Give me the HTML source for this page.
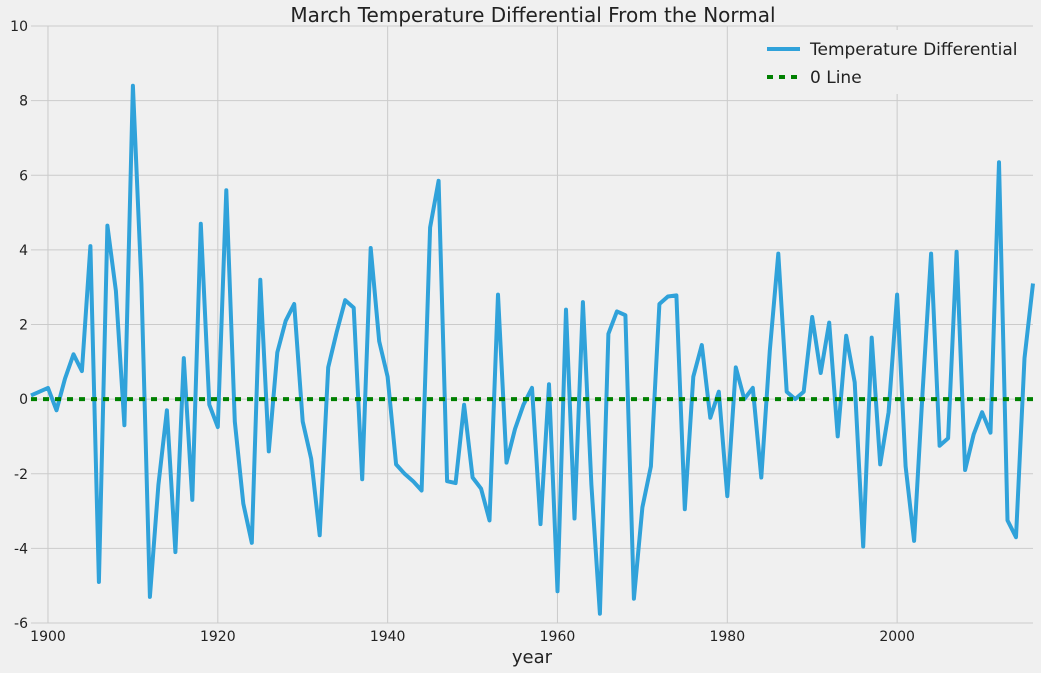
<!DOCTYPE html>
<html><head><meta charset="utf-8"><style>
html,body{margin:0;padding:0;background:#f0f0f0;}
svg{display:block;font-family:"DejaVu Sans","Liberation Sans",sans-serif;}
</style></head><body>
<svg id="chart" width="1041" height="673" xmlns="http://www.w3.org/2000/svg">
<rect width="1041" height="673" fill="#f0f0f0"/>
<g id="grid"></g>
<g id="ticks"></g>
<g id="series"></g>
<text x="533" y="22" font-size="20" text-anchor="middle" fill="#222">March Temperature Differential From the Normal</text>
<text x="532" y="663" font-size="18" text-anchor="middle" fill="#222">year</text>
<g>
<rect x="748" y="30" width="284" height="64" fill="#f0f0f0"/>
<line x1="767" y1="49" x2="800" y2="49" stroke="#30a2da" stroke-width="4"/>
<text x="810" y="55" font-size="17" fill="#222">Temperature Differential</text>
<line x1="767" y1="77" x2="800" y2="77" stroke="#008000" stroke-width="4" stroke-dasharray="6,6"/>
<text x="810" y="83" font-size="17" fill="#222">0 Line</text>
</g>
</svg>
<script>
const years = [];
for (let y = 1898; y <= 2016; y++) years.push(y);
const values = [0.1,0.2,0.3,-0.3,0.55,1.2,0.75,4.1,-4.9,4.65,2.9,-0.7,8.4,3.1,-5.3,-2.3,-0.3,-4.1,1.1,-2.7,4.7,-0.15,-0.75,5.6,-0.6,-2.8,-3.85,3.2,-1.4,1.25,2.1,2.55,-0.6,-1.6,-3.65,0.85,1.8,2.65,2.45,-2.15,4.05,1.55,0.6,-1.75,-2.0,-2.2,-2.45,4.6,5.85,-2.2,-2.25,-0.15,-2.1,-2.4,-3.25,2.8,-1.7,-0.8,-0.15,0.3,-3.35,0.4,-5.15,2.4,-3.2,2.6,-2.3,-5.75,1.75,2.35,2.25,-5.35,-2.9,-1.8,2.55,2.75,2.78,-2.95,0.6,1.45,-0.5,0.2,-2.6,0.85,0,0.3,-2.1,1.3,3.9,0.2,0,0.2,2.2,0.7,2.05,-1.0,1.7,0.45,-3.95,1.65,-1.75,-0.35,2.8,-1.8,-3.8,0.2,3.9,-1.25,-1.05,3.95,-1.9,-0.95,-0.35,-0.9,6.35,-3.25,-3.7,1.1,3.1];
const yTicks = [-6,-4,-2,0,2,4,6,8,10];
const xTicks = [1900,1920,1940,1960,1980,2000];
const zeroLine = [0];

const X0=31, X1=1033, Y0=26, Y1=623;
const xMin=1898, xMax=2016, yMin=-6, yMax=10;
const sx = v => X0 + (v - xMin) / (xMax - xMin) * (X1 - X0);
const sy = v => Y1 - (v - yMin) / (yMax - yMin) * (Y1 - Y0);
const NS = "http://www.w3.org/2000/svg";
const mk = (tag, attrs, parent) => { const e = document.createElementNS(NS, tag); for (const k in attrs) e.setAttribute(k, attrs[k]); parent.appendChild(e); return e; };
const grid = document.getElementById('grid'), ticks = document.getElementById('ticks'), series = document.getElementById('series');

yTicks.forEach(t => {
  const l = mk('line', {x1: X0, x2: X1, y1: sy(t), y2: sy(t), stroke: '#cbcbcb', 'stroke-width': 1}, grid);
  
  
  const tx = mk('text', {x: 28, y: sy(t) + 5, 'font-size': 14, 'text-anchor': 'end', fill: '#222'}, ticks);
  tx.textContent = t;
  
  
});
xTicks.forEach(t => {
  const l = mk('line', {x1: sx(t), x2: sx(t), y1: Y0, y2: Y1, stroke: '#cbcbcb', 'stroke-width': 1}, grid);
  
  
  const tx = mk('text', {x: sx(t), y: 641, 'font-size': 14, 'text-anchor': 'middle', fill: '#222'}, ticks);
  tx.textContent = t;
  
  
});

const pts = years.map((yr, i) => sx(yr).toFixed(1) + ',' + sy(values[i]).toFixed(1)).join(' ');
const line = mk('polyline', {points: pts, fill: 'none', stroke: '#30a2da', 'stroke-width': 4, 'stroke-linejoin': 'round'}, series);



zeroLine.forEach(z => {
  const zl = mk('line', {x1: X0, x2: X1, y1: sy(z), y2: sy(z), stroke: '#008000', 'stroke-width': 4, 'stroke-dasharray': '6,6'}, series);
  
  
});
</script>
</body></html>
